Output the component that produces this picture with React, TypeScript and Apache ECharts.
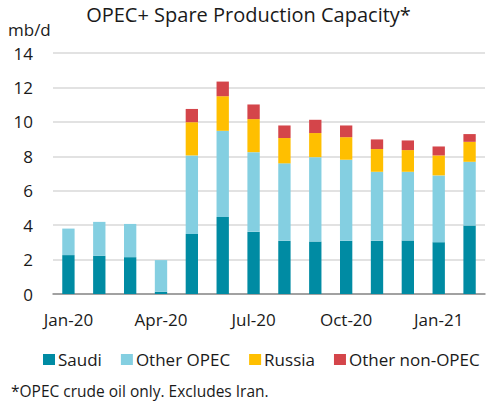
import { useEffect, useRef } from 'react';
import * as echarts from 'echarts';

const months = [
  'Jan-20', 'Feb-20', 'Mar-20', 'Apr-20', 'May-20', 'Jun-20', 'Jul-20',
  'Aug-20', 'Sep-20', 'Oct-20', 'Nov-20', 'Dec-20', 'Jan-21', 'Feb-21',
];
const saudi = [2.26, 2.22, 2.14, 0.13, 3.49, 4.48, 3.61, 3.09, 3.05, 3.09, 3.09, 3.11, 3.01, 3.98];
const otherOpec = [1.54, 1.97, 1.93, 1.84, 4.56, 5.0, 4.63, 4.5, 4.9, 4.71, 4.01, 3.99, 3.88, 3.7];
const russia = [0, 0, 0, 0, 1.93, 2.01, 1.92, 1.47, 1.4, 1.31, 1.32, 1.26, 1.16, 1.16];
const otherNonOpec = [0, 0, 0, 0, 0.77, 0.85, 0.85, 0.73, 0.77, 0.68, 0.56, 0.56, 0.52, 0.45];

const FONT = 'Open Sans';
const TEXT = '#1a1a1a';

export default function App() {
  const ref = useRef<HTMLDivElement>(null);

  useEffect(() => {
    if (!ref.current) return;
    const chart = echarts.init(ref.current, undefined, { renderer: 'svg' });

    const bar = (name: string, data: number[], color: string) => ({
      name,
      type: 'bar',
      stack: 'total',
      data,
      barWidth: '40%',
      itemStyle: { color },
    });

    chart.setOption({
      animation: false,
      textStyle: { fontFamily: FONT, color: TEXT },
      title: {
        text: 'OPEC+ Spare Production Capacity*',
        left: 'center',
        top: -1,
        textStyle: { fontFamily: FONT, fontSize: 20, fontWeight: 'normal', color: TEXT },
      },
      grid: { left: 53, right: 12, top: 53, bottom: 110 },
      legend: {
        left: 38,
        top: 346,
        itemWidth: 12,
        itemHeight: 11,
        itemGap: 19,
        icon: 'rect',
        textStyle: { fontFamily: FONT, fontSize: 17, color: TEXT, padding: [0, 0, 0, -2] },
        data: ['Saudi', 'Other OPEC', 'Russia', 'Other non-OPEC'],
      },
      xAxis: {
        type: 'category',
        data: months,
        axisLine: { lineStyle: { color: '#8c8c8c', width: 1.5 } },
        axisTick: { interval: 2, length: 6, lineStyle: { color: '#8c8c8c', width: 1.5 } },
        axisLabel: { interval: 2, fontSize: 17, color: TEXT, margin: 17, fontFamily: FONT },
      },
      yAxis: {
        type: 'value',
        min: 0,
        max: 14,
        interval: 2,
        axisLine: { show: false },
        axisTick: { show: false },
        axisLabel: { fontSize: 17, color: TEXT, margin: 20, fontFamily: FONT },
        splitLine: { lineStyle: { color: '#d9d9d9', width: 1.5 } },
      },
      graphic: [
        {
          type: 'text',
          left: 8,
          top: 21,
          style: { text: 'mb/d', fontSize: 17, fontFamily: FONT, fill: TEXT },
        },
        {
          type: 'text',
          left: 11,
          top: 383,
          style: { text: '*OPEC crude oil only. Excludes Iran.', fontSize: 15.5, fontFamily: FONT, fill: TEXT },
        },
      ],
      series: [
        bar('Saudi', saudi, '#008ba3'),
        bar('Other OPEC', otherOpec, '#84cfe1'),
        bar('Russia', russia, '#ffbf00'),
        bar('Other non-OPEC', otherNonOpec, '#d4454a'),
      ],
    });

    return () => chart.dispose();
  }, []);

  return (
    <div
      ref={ref}
      style={{ position: 'fixed', left: 0, top: 0, width: 497, height: 404, background: '#fff' }}
    />
  );
}
